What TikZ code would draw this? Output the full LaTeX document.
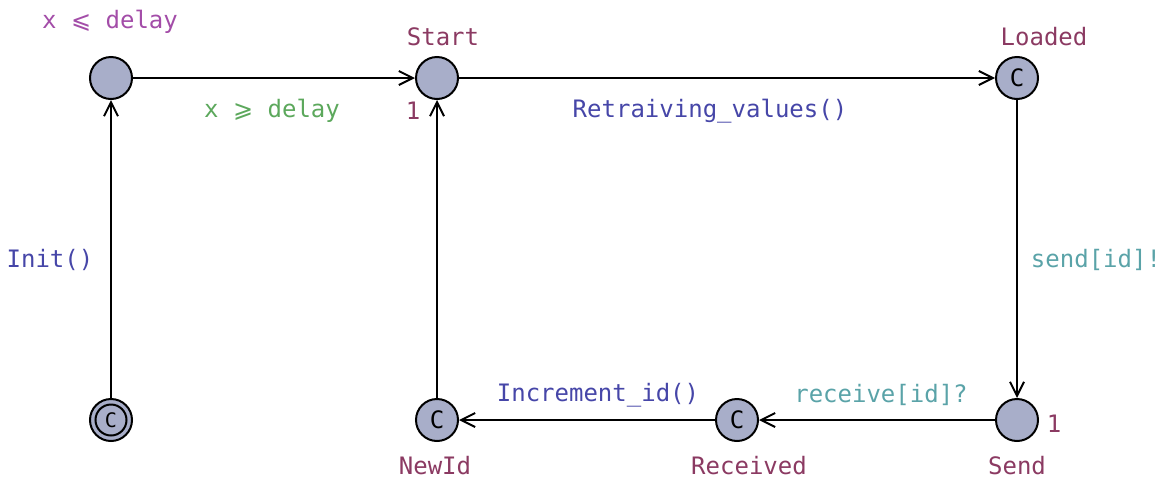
\documentclass[tikz,border=0pt]{standalone}
\usepackage{fontspec}
\setmonofont{DejaVu Sans Mono}
\newfontfamily\relfont{DejaVu Sans}
\usetikzlibrary{arrows.meta}
\definecolor{locfill}{HTML}{A8AEC9}
\definecolor{invcol}{HTML}{A34DA8}
\definecolor{guardcol}{HTML}{5CA85C}
\definecolor{updcol}{HTML}{4646A8}
\definecolor{synccol}{HTML}{5AA3A8}
\definecolor{namecol}{HTML}{8B3A62}
\newcommand{\leqrel}{{\relfont ⩽}}
\newcommand{\geqrel}{{\relfont ⩾}}
\tikzset{
  loc/.style={circle, draw=black, line width=2pt, fill=locfill, minimum size=42pt, inner sep=0pt},
  committed/.style={loc, font=\fontsize{24}{26}\selectfont\ttfamily, text=black},
  txt/.style={font=\fontsize{24}{26}\selectfont\ttfamily, inner sep=0pt, anchor=center},
  edge/.style={line width=2pt, -{Straight Barb[length=14pt, width=14pt, line width=2pt]}},
}
\begin{document}
\begin{tikzpicture}[x=1pt, y=-1pt]
\useasboundingbox (0,0) rectangle (1160,480);
% locations
\node[loc] (wait) at (111,78) {};
\node[loc] (start) at (437,78) {};
\node[committed] (loaded) at (1017,78) {C};
\node[loc] (init) at (111,420) {};
\node[committed] (newid) at (437,420) {C};
\node[committed] (received) at (737,420) {C};
\node[loc] (send) at (1017,420) {};
% initial location: inner ring with committed mark
\node[circle, draw=black, line width=2pt, minimum size=31pt, inner sep=0pt,
      font=\fontsize{20}{22}\selectfont\ttfamily] (initmark) at (init) {C};
% location names, invariants and priorities
\node[txt, text=invcol] (inv) at (110,22) {x \leqrel{} delay};
\node[txt, text=namecol] (nstart) at (443,37) {Start};
\node[txt, text=namecol] (nloaded) at (1044,37) {Loaded};
\node[txt, text=namecol] (nnewid) at (435,466) {NewId};
\node[txt, text=namecol] (nreceived) at (749,466) {Received};
\node[txt, text=namecol] (nsend) at (1017,466) {Send};
\node[txt, text=namecol] (pstart) at (413,111) {1};
\node[txt, text=namecol] (psend) at (1054,424) {1};
% edges
\draw[edge] (init) -- (wait);
\draw[edge] (wait) -- (start);
\draw[edge] (start) -- (loaded);
\draw[edge] (loaded) -- (send);
\draw[edge] (send) -- (received);
\draw[edge] (received) -- (newid);
\draw[edge] (newid) -- (start);
% edge labels
\node[txt, text=updcol] (linit) at (50,260) {Init()};
\node[txt, text=guardcol] (lguard) at (272,111) {x \geqrel{} delay};
\node[txt, text=updcol] (lret) at (710,111) {Retraiving\_values()};
\node[txt, text=synccol] (lsend) at (1096,260) {send[id]!};
\node[txt, text=synccol] (lrecv) at (881,395) {receive[id]?};
\node[txt, text=updcol] (linc) at (598,395) {Increment\_id()};
\end{tikzpicture}
\end{document}
